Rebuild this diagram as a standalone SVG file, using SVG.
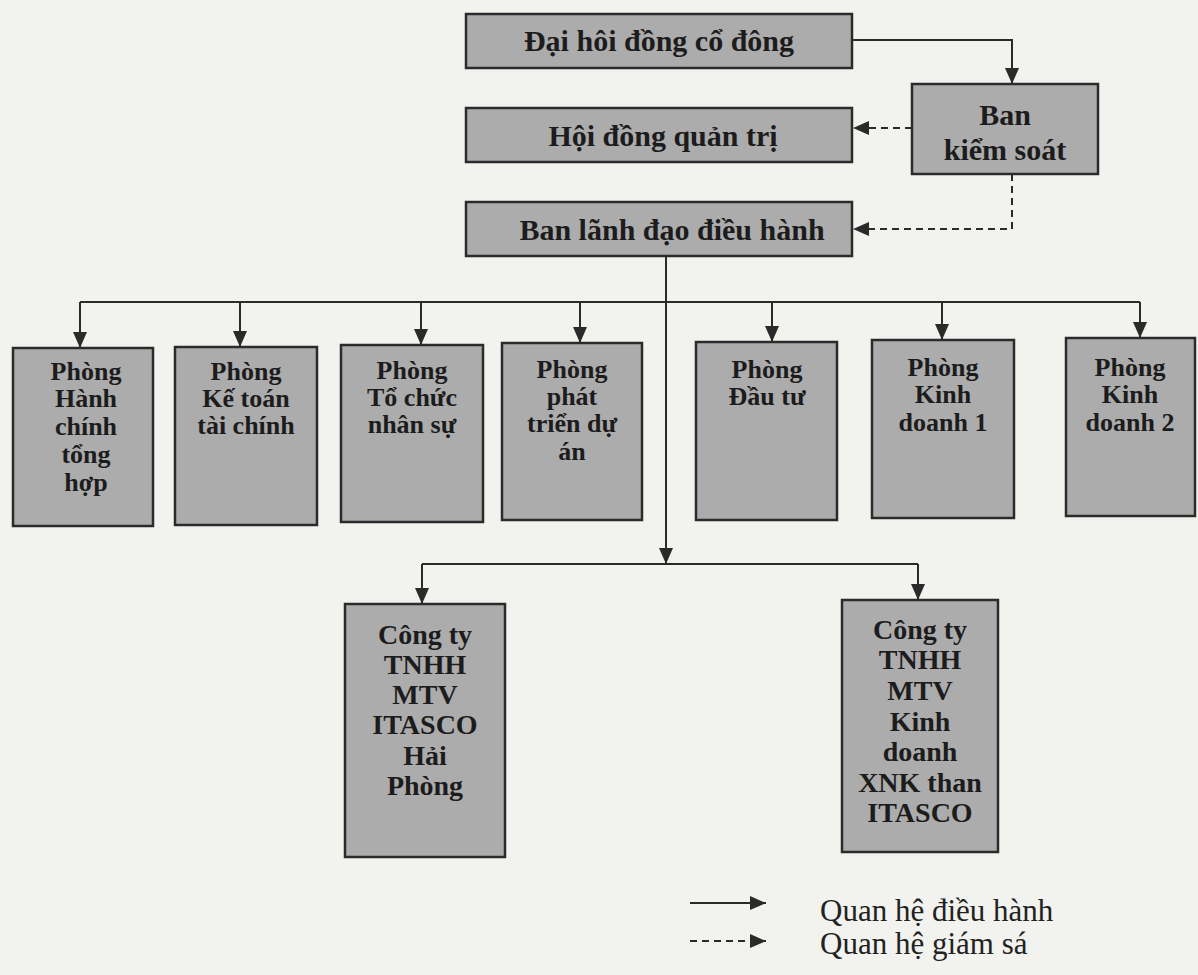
<svg xmlns="http://www.w3.org/2000/svg" width="1198" height="975" viewBox="0 0 1198 975">
<style>
.box{fill:#acacac;stroke:#2b2b2b;stroke-width:2.5}
.t{font-family:"Liberation Serif","Times New Roman",serif;font-weight:bold;fill:#1c1c1c;text-anchor:middle}
.big{font-size:30px}
.mid{font-size:26px}
.co{font-size:28px}
.leg{font-family:"Liberation Serif","Times New Roman",serif;font-size:31px;fill:#222}
.ln{fill:none;stroke:#2a2a2a;stroke-width:2}
.dash{fill:none;stroke:#2a2a2a;stroke-width:2;stroke-dasharray:7,5}
</style>
<defs>
<marker id="ah" viewBox="0 0 16 14" refX="16" refY="7" markerWidth="16" markerHeight="14" markerUnits="userSpaceOnUse" orient="auto">
<path d="M0,0 L16,7 L0,14 z" fill="#2a2a2a"/>
</marker>
</defs>
<rect width="1198" height="975" fill="#f2f2ef"/>

<g id="connectors">
<path class="ln" d="M852,40 H1012 V84" marker-end="url(#ah)"/>
<path class="dash" d="M912,128 H853" marker-end="url(#ah)"/>
<path class="dash" d="M1012,174 V229 H853" marker-end="url(#ah)"/>
<path class="ln" d="M666,256 V564" marker-end="url(#ah)"/>
<path class="ln" d="M80,302 H1140"/>
<path class="ln" d="M80,302 V348" marker-end="url(#ah)"/>
<path class="ln" d="M240,302 V347" marker-end="url(#ah)"/>
<path class="ln" d="M421,302 V345" marker-end="url(#ah)"/>
<path class="ln" d="M580,302 V343" marker-end="url(#ah)"/>
<path class="ln" d="M772,302 V342" marker-end="url(#ah)"/>
<path class="ln" d="M942,302 V340" marker-end="url(#ah)"/>
<path class="ln" d="M1140,302 V338" marker-end="url(#ah)"/>
<path class="ln" d="M422,564 H918"/>
<path class="ln" d="M422,564 V604" marker-end="url(#ah)"/>
<path class="ln" d="M918,564 V600" marker-end="url(#ah)"/>
</g>

<g id="dhdcd">
<rect class="box" x="466" y="14" width="386" height="54"/>
<text class="t big" x="659" y="51">Đại hôi đồng cổ đông</text>
</g>
<g id="hdqt">
<rect class="box" x="466" y="108" width="386" height="54"/>
<text class="t big" x="663" y="146">Hội đồng quản trị</text>
</g>
<g id="bks">
<rect class="box" x="912" y="84" width="186" height="90"/>
<text class="t big" x="1005" y="125">Ban</text>
<text class="t big" x="1005" y="160">kiểm soát</text>
</g>
<g id="bldh">
<rect class="box" x="466" y="202" width="386" height="54"/>
<text class="t big" x="672" y="240" font-size="31">Ban lãnh đạo điều hành</text>
</g>

<g id="p1">
<rect class="box" x="13" y="348" width="140" height="178"/>
<text class="t mid" x="86"><tspan x="86" y="380">Phòng</tspan><tspan x="86" y="407">Hành</tspan><tspan x="86" y="435">chính</tspan><tspan x="86" y="463">tổng</tspan><tspan x="86" y="491">hợp</tspan></text>
</g>
<g id="p2">
<rect class="box" x="175" y="347" width="142" height="178"/>
<text class="t mid" x="246"><tspan x="246" y="380">Phòng</tspan><tspan x="246" y="407">Kế toán</tspan><tspan x="246" y="434">tài chính</tspan></text>
</g>
<g id="p3">
<rect class="box" x="341" y="345" width="142" height="177"/>
<text class="t mid" x="412"><tspan x="412" y="379">Phòng</tspan><tspan x="412" y="406">Tổ chức</tspan><tspan x="412" y="433">nhân sự</tspan></text>
</g>
<g id="p4">
<rect class="box" x="502" y="343" width="140" height="177"/>
<text class="t mid" x="572"><tspan x="572" y="378">Phòng</tspan><tspan x="572" y="405">phát</tspan><tspan x="572" y="432">triển dự</tspan><tspan x="572" y="460">án</tspan></text>
</g>
<g id="p5">
<rect class="box" x="696" y="342" width="141" height="178"/>
<text class="t mid" x="767"><tspan x="767" y="378">Phòng</tspan><tspan x="767" y="405">Đầu tư</tspan></text>
</g>
<g id="p6">
<rect class="box" x="872" y="340" width="142" height="178"/>
<text class="t mid" x="943"><tspan x="943" y="376">Phòng</tspan><tspan x="943" y="403">Kinh</tspan><tspan x="943" y="431">doanh 1</tspan></text>
</g>
<g id="p7">
<rect class="box" x="1066" y="338" width="129" height="178"/>
<text class="t mid" x="1130"><tspan x="1130" y="376">Phòng</tspan><tspan x="1130" y="403">Kinh</tspan><tspan x="1130" y="431">doanh 2</tspan></text>
</g>

<g id="c1">
<rect class="box" x="345" y="604" width="160" height="253"/>
<text class="t co" x="425"><tspan x="425" y="644">Công ty</tspan><tspan x="425" y="674">TNHH</tspan><tspan x="425" y="704">MTV</tspan><tspan x="425" y="734">ITASCO</tspan><tspan x="425" y="765">Hải</tspan><tspan x="425" y="795">Phòng</tspan></text>
</g>
<g id="c2">
<rect class="box" x="842" y="600" width="156" height="252"/>
<text class="t co" x="920"><tspan x="920" y="639">Công ty</tspan><tspan x="920" y="669">TNHH</tspan><tspan x="920" y="700">MTV</tspan><tspan x="920" y="731">Kinh</tspan><tspan x="920" y="761">doanh</tspan><tspan x="920" y="792">XNK than</tspan><tspan x="920" y="822">ITASCO</tspan></text>
</g>

<g id="legend">
<path class="ln" d="M690,903 H766" marker-end="url(#ah)"/>
<path class="dash" d="M690,941 H766" marker-end="url(#ah)"/>
<text class="leg" x="820" y="921">Quan hệ điều hành</text>
<text class="leg" x="820" y="954">Quan hệ giám sá</text>
</g>
</svg>
